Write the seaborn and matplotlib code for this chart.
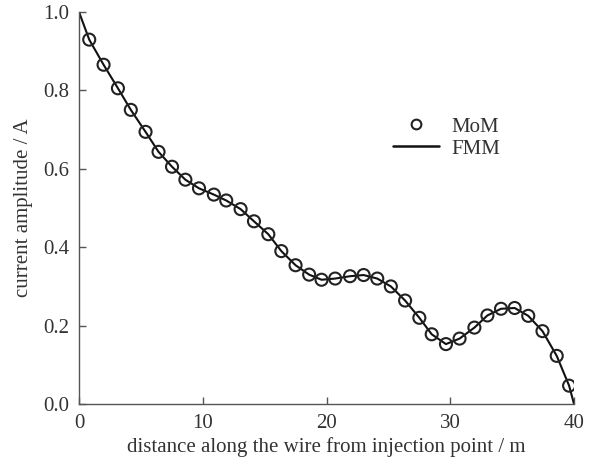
import numpy as np
import pandas as pd
import matplotlib
matplotlib.use('Agg')
import matplotlib.pyplot as plt
import seaborn as sns
from matplotlib.lines import Line2D

# MoM samples
mom_x = [0.83, 1.99, 3.15, 4.19, 5.38, 6.43, 7.52, 8.6, 9.7, 10.9,
         11.9, 13.06, 14.14, 15.3, 16.35, 17.5, 18.6, 19.6, 20.7, 21.9,
         23.0, 24.1, 25.2, 26.35, 27.5, 28.5, 29.65, 30.75, 31.95, 33.0,
         34.1, 35.2, 36.3, 37.45, 38.6, 39.6]
mom_y = [0.929, 0.865, 0.805, 0.75, 0.694, 0.643, 0.605, 0.572, 0.55, 0.534,
         0.519, 0.497, 0.466, 0.433, 0.39, 0.354, 0.33, 0.317, 0.32, 0.326,
         0.329, 0.32, 0.30, 0.264, 0.22, 0.178, 0.153, 0.167, 0.195, 0.226,
         0.243, 0.245, 0.225, 0.186, 0.123, 0.047]

# FMM curve (same trace plus the end points)
fmm_x = [0.0] + mom_x + [40.0]
fmm_y = [1.0] + mom_y + [0.0]

x_ticks = [0, 10, 20, 30, 40]
y_ticks = [0.0, 0.2, 0.4, 0.6, 0.8, 1.0]

sns.set_theme(style='ticks')
plt.rcParams['font.family'] = ['Liberation Serif', 'DejaVu Serif']
plt.rcParams['text.color'] = '#333333'
plt.rcParams['axes.labelcolor'] = '#333333'
plt.rcParams['xtick.color'] = '#555555'
plt.rcParams['ytick.color'] = '#555555'
plt.rcParams['xtick.labelcolor'] = '#333333'
plt.rcParams['ytick.labelcolor'] = '#333333'

fig = plt.figure(figsize=(6.12, 4.71), dpi=100)
ax = fig.add_axes([0.129, 0.142, 0.809, 0.833])

mom = pd.DataFrame({'x': mom_x, 'y': mom_y})
fmm = pd.DataFrame({'x': fmm_x, 'y': fmm_y})

sns.lineplot(data=fmm, x='x', y='y', ax=ax, color='#111111', linewidth=1.5)
sns.scatterplot(data=mom, x='x', y='y', ax=ax, marker='o', s=75,
                facecolor='none', edgecolor='#222222', linewidth=1.5, zorder=3)

ax.set_xlim(0, 40)
ax.set_ylim(0, 1.0)
ax.set_xticks(x_ticks)
ax.set_yticks(y_ticks)
ax.set_xticklabels([str(t) for t in x_ticks])
ax.set_yticklabels(['%.1f' % t for t in y_ticks])
ax.tick_params(direction='in', length=5, width=1, labelsize=15, pad=7)

sns.despine(ax=ax)
for s in ['left', 'bottom']:
    ax.spines[s].set_color('#555555')
    ax.spines[s].set_linewidth(1.0)

ax.set_xlabel('distance along the wire from injection point / m', fontsize=15, labelpad=3)
ax.set_ylabel('current amplitude / A', fontsize=15, labelpad=7)

handles = [Line2D([], [], linestyle='none', marker='o', markersize=7,
                  markerfacecolor='none', markeredgecolor='#222222', markeredgewidth=1.5),
           Line2D([], [], color='#111111', linewidth=1.8)]
ax.legend(handles, ['MoM', 'FMM'], loc='upper left', bbox_to_anchor=(0.634, 0.732),
          borderaxespad=0, borderpad=0, frameon=False, fontsize=15,
          handlelength=2.2, handletextpad=0.6, labelspacing=0.12)

fig.savefig('out.png', dpi=100)
